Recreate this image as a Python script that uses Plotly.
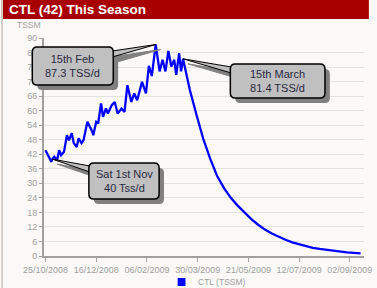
import plotly.graph_objects as go
import pandas as pd

# ---------------- data ----------------
dates = [
    "2008-10-25", "2008-10-28", "2008-10-31", "2008-11-01", "2008-11-03", "2008-11-06",
    "2008-11-08", "2008-11-10", "2008-11-13", "2008-11-16", "2008-11-18", "2008-11-21",
    "2008-11-23", "2008-11-26", "2008-11-28", "2008-12-01", "2008-12-03", "2008-12-07",
    "2008-12-09", "2008-12-12", "2008-12-13", "2008-12-16", "2008-12-18", "2008-12-21",
    "2008-12-23", "2008-12-26", "2008-12-28", "2009-01-01", "2009-01-04", "2009-01-07",
    "2009-01-11", "2009-01-14", "2009-01-17", "2009-01-21", "2009-01-24", "2009-01-27",
    "2009-02-01", "2009-02-05", "2009-02-08", "2009-02-11", "2009-02-15", "2009-02-17",
    "2009-02-19", "2009-02-22", "2009-02-25", "2009-02-28", "2009-03-03", "2009-03-06",
    "2009-03-08", "2009-03-11", "2009-03-13", "2009-03-15",
    "2009-03-22", "2009-03-29", "2009-04-05", "2009-04-12", "2009-04-19", "2009-04-26",
    "2009-05-03", "2009-05-10", "2009-05-17", "2009-05-24", "2009-05-31", "2009-06-07",
    "2009-06-14", "2009-06-21", "2009-06-28", "2009-07-05", "2009-07-12", "2009-07-19",
    "2009-07-26", "2009-08-02", "2009-08-09", "2009-08-16", "2009-08-23", "2009-08-30",
    "2009-09-06", "2009-09-13",
]
ctl = [
    43.7, 41.6, 38.9, 40.0, 41.0, 39.6,
    43.7, 41.6, 43.0, 49.9, 47.8, 50.7,
    46.6, 45.0, 48.6, 46.6, 47.8, 55.4,
    54.0, 51.3, 49.9, 55.4, 54.7, 63.0,
    57.4, 60.9, 58.8, 62.3, 63.6, 58.8,
    60.9, 59.5, 70.5, 63.6, 67.1, 64.3,
    71.9, 67.1, 78.5, 74.3, 87.3, 81.6,
    76.2, 81.0, 76.2, 84.7, 78.2, 81.0,
    74.8, 83.7, 76.2, 81.4,
    68.5, 58.0, 48.0, 40.0, 33.0, 28.0,
    24.0, 20.8, 17.8, 15.2, 12.9, 10.9,
    9.3, 7.9, 6.7, 5.6, 4.8, 4.0,
    3.4, 2.9, 2.5, 2.1, 1.8, 1.5,
    1.3, 1.1,
]
tick_dates = ["2008-10-25", "2008-12-16", "2009-02-06", "2009-03-30",
              "2009-05-21", "2009-07-12", "2009-09-02"]
tick_text = ["25/10/2008", "16/12/2008", "06/02/2009", "30/03/2009",
             "21/05/2009", "12/07/2009", "02/09/2009"]
y_ticks = list(range(0, 91, 6))

callout_dates = ["2009-02-15", "2009-03-15", "2008-11-01"]
callout_text = ["15th Feb<br>87.3 TSS/d", "15th March<br>81.4 TSS/d", "Sat 1st Nov<br>40 Tss/d"]

# ---------------- layout helpers ----------------
W, H = 377, 288
L, T, PW, PH = 44, 38, 328, 218
X0 = pd.Timestamp("2008-10-23 12:00")
X1 = pd.Timestamp("2009-09-16 12:00")
Y0, Y1 = 0, 90


def px(x):
    return (x - L) / PW


def py(y):
    return (T + PH - y) / PH


def dxp(d):
    return (pd.Timestamp(d) - X0) / (X1 - X0)


def dyp(v):
    return (v - Y0) / (Y1 - Y0)


def rrect(x0, y0, x1, y1, r=5):
    pts = [
        f"M {px(x0 + r)},{py(y0)}",
        f"L {px(x1 - r)},{py(y0)}",
        f"Q {px(x1)},{py(y0)} {px(x1)},{py(y0 + r)}",
        f"L {px(x1)},{py(y1 - r)}",
        f"Q {px(x1)},{py(y1)} {px(x1 - r)},{py(y1)}",
        f"L {px(x0 + r)},{py(y1)}",
        f"Q {px(x0)},{py(y1)} {px(x0)},{py(y1 - r)}",
        f"L {px(x0)},{py(y0 + r)}",
        f"Q {px(x0)},{py(y0)} {px(x0 + r)},{py(y0)}",
        "Z",
    ]
    return " ".join(pts)


fig = go.Figure()
fig.add_trace(go.Scatter(
    x=dates, y=ctl, mode="lines",
    line=dict(color="#0000FF", width=2.3),
    name="CTL (TSSM)", showlegend=False, hoverinfo="skip",
))

shapes = []
annotations = []

# title bar and frame
shapes.append(dict(type="rect", xref="paper", yref="paper",
                   x0=px(0), x1=px(W), y0=py(0), y1=py(19),
                   fillcolor="#A80000", line=dict(width=0), layer="above"))
shapes.append(dict(type="rect", xref="paper", yref="paper",
                   x0=px(0), x1=px(2), y0=py(0), y1=py(H),
                   fillcolor="#D4D0C8", line=dict(width=0), layer="above"))
annotations.append(dict(text="<b>CTL (42) This Season</b>", xref="paper", yref="paper",
                        x=px(6), y=py(9.5), xanchor="left", yanchor="middle",
                        showarrow=False, font=dict(color="white", size=13.5,
                                                   family="Liberation Sans, Arial")))
annotations.append(dict(text="TSSM", xref="paper", yref="paper",
                        x=px(29), y=py(25), xanchor="center", yanchor="middle",
                        showarrow=False, font=dict(color="#A0A0A0", size=8.5,
                                                   family="Liberation Sans, Arial")))

# callouts: box rect (px) and wedge base points (px)
boxes = [
    ((32, 47, 115, 85), ((114, 51), (114, 57))),
    ((235, 64, 332, 98), ((236, 67), (236, 73))),
    ((90, 163, 162, 199), ((91, 166), (91, 172))),
]
SH = 5
for (d, txt, (rect, base)) in zip(callout_dates, callout_text, boxes):
    v = ctl[dates.index(d)]
    tx, ty = dxp(d), dyp(v)
    (bx0, by0), (bx1, by1) = base
    # shadow
    shapes.append(dict(type="path", xref="paper", yref="paper",
                       path=f"M {tx + SH / PW},{ty - SH / PH} L {px(bx0 + SH)},{py(by0 + SH)} L {px(bx1 + SH)},{py(by1 + SH)} Z",
                       fillcolor="#808080", line=dict(color="#808080", width=1), layer="above"))
    x0, y0, x1, y1 = rect
    shapes.append(dict(type="path", xref="paper", yref="paper",
                       path=rrect(x0 + SH, y0 + SH, x1 + SH, y1 + SH),
                       fillcolor="#808080", line=dict(width=0), layer="above"))
    # wedge
    shapes.append(dict(type="path", xref="paper", yref="paper",
                       path=f"M {tx},{ty} L {px(bx0)},{py(by0)} L {px(bx1)},{py(by1)} Z",
                       fillcolor="#C0C0C0", line=dict(color="black", width=1), layer="above"))
    shapes.append(dict(type="path", xref="paper", yref="paper",
                       path=rrect(x0, y0, x1, y1),
                       fillcolor="#C0C0C0", line=dict(color="black", width=1.5), layer="above"))
    annotations.append(dict(text=txt, xref="paper", yref="paper",
                            x=px((x0 + x1) / 2), y=py((y0 + y1) / 2),
                            xanchor="center", yanchor="middle", showarrow=False,
                            font=dict(color="#2A2A40", size=11, family="Liberation Sans, Arial")))

# legend
shapes.append(dict(type="rect", xref="paper", yref="paper",
                   x0=px(181), x1=px(189), y0=py(278), y1=py(286),
                   fillcolor="#0000FF", line=dict(width=0)))
annotations.append(dict(text="CTL (TSSM)", xref="paper", yref="paper",
                        x=px(200), y=py(282), xanchor="left", yanchor="middle",
                        showarrow=False, font=dict(color="#A0A0A0", size=8.5,
                                                   family="Liberation Sans, Arial")))

fig.update_layout(
    width=W, height=H,
    margin=dict(l=L, r=W - L - PW, t=T, b=H - T - PH, pad=0),
    paper_bgcolor="#FAF9F7", plot_bgcolor="#FAF9F7",
    shapes=shapes, annotations=annotations,
    showlegend=False,
    xaxis=dict(type="date", range=[X0, X1], tickvals=tick_dates, ticktext=tick_text,
               showgrid=False, zeroline=False, showline=True, linecolor="#A0A0A0",
               linewidth=2, ticks="outside", ticklen=4, tickcolor="#A0A0A0",
               ticklabeloverflow="allow",
               tickfont=dict(color="#A0A0A0", size=9, family="Liberation Sans, Arial"),
               fixedrange=True),
    yaxis=dict(range=[Y0, Y1], tickvals=y_ticks, showgrid=True, gridcolor="#E2E2E2",
               gridwidth=1, zeroline=False, showline=True, linecolor="#A0A0A0",
               linewidth=2, ticks="outside", ticklen=3, tickcolor="#A0A0A0",
               tickfont=dict(color="#A0A0A0", size=9, family="Liberation Sans, Arial"),
               fixedrange=True),
)

fig.write_html("out.html", config={"displayModeBar": False})
